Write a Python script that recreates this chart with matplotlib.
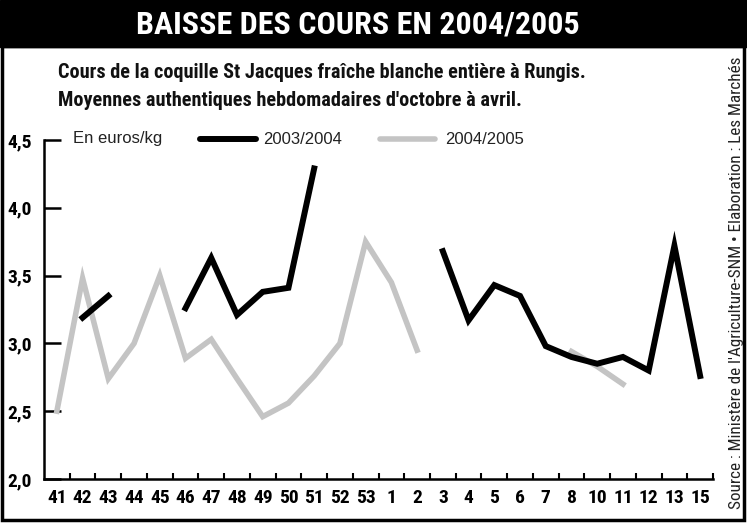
import numpy as np
import matplotlib
matplotlib.use('Agg')
from matplotlib import pyplot as plt
from matplotlib.lines import Line2D
from matplotlib.patches import Rectangle

nan = np.nan

# semaines (9 et 14 absentes dans l'original)
weeks = ['41', '42', '43', '44', '45', '46', '47', '48', '49', '50', '51', '52', '53',
         '1', '2', '3', '4', '5', '6', '7', '8', '10', '11', '12', '13', '15']
# cours en euros/kg
s0304 = [nan, 3.19, 3.35, nan, nan, 3.26, 3.63, 3.21, 3.38, 3.41, 4.29, nan, nan,
         nan, nan, 3.68, 3.17, 3.43, 3.35, 2.98, 2.90, 2.85, 2.90, 2.80, 3.72, 2.76]
s0405 = [2.50, 3.48, 2.74, 3.00, 3.50, 2.89, 3.03, 2.74, 2.46, 2.56, 2.76, 3.00, 3.75,
         3.45, 2.95, nan, nan, nan, nan, nan, 2.94, 2.83, 2.70, nan, nan, nan]
yticks = [2.0, 2.5, 3.0, 3.5, 4.0, 4.5]
ylabels = ['2,0', '2,5', '3,0', '3,5', '4,0', '4,5']

W, H = 747, 524
COND = ['Roboto Condensed', 'DejaVu Sans']
REG = ['Liberation Sans', 'DejaVu Sans']
plt.rcParams['font.family'] = COND

def px(x, y):
    return x / W, 1 - y / H

fig = plt.figure(figsize=(W / 100, H / 100), dpi=100)
fig.patch.set_facecolor('white')

# bandeau titre + cadre
fig.patches.append(Rectangle(px(0, 47), 1, 47 / H, transform=fig.transFigure,
                             color='black', zorder=0))
fig.patches.append(Rectangle(px(2, 520), 742 / W, 474 / H, transform=fig.transFigure,
                             fill=False, edgecolor='black', lw=2.5, zorder=0))
fig.text(*px(358, 25), 'BAISSE DES COURS EN 2004/2005', color='white',
         fontsize=23, fontweight='bold', ha='center', va='center')
fig.text(*px(58, 72), "Cours de la coquille St Jacques fraîche blanche entière à Rungis.",
         fontsize=14.6, fontweight='bold', color='#111111', va='center')
fig.text(*px(58, 101), "Moyennes authentiques hebdomadaires d'octobre à avril.",
         fontsize=14.6, fontweight='bold', color='#111111', va='center')
fig.text(*px(737, 283), "Source : Ministère de l'Agriculture-SNM • Elaboration : Les Marchés",
         rotation=90, fontsize=12.3, ha='center', va='center', color='#222222')

ax = fig.add_axes([44 / W, 45 / H, (713 - 44) / W, (384 - 45) / H])
x = np.arange(len(weeks))
ax.plot(x, s0405, color='#c4c4c4', lw=4.0, solid_joinstyle='miter', zorder=2)
ax.plot(x, s0304, color='black', lw=4.3, solid_joinstyle='miter', zorder=3)

ax.set_xlim(-0.5, len(weeks) - 0.5)
ax.set_ylim(2.0, 4.5)
ax.set_yticks(yticks)
ax.set_yticklabels(ylabels, fontweight='bold', fontsize=14)
ax.set_xticks(x)
ax.set_xticklabels(weeks, fontsize=14, fontweight='bold')
ax.set_xticks(np.arange(len(weeks)) + 0.5, minor=True)
ax.tick_params(axis='x', which='major', length=0, pad=7)
ax.tick_params(axis='x', which='minor', direction='in', length=4, width=1.5)
ax.tick_params(axis='y', direction='in', length=12, width=1.8, pad=9)
for s in ['top', 'right']:
    ax.spines[s].set_visible(False)
for s in ['left', 'bottom']:
    ax.spines[s].set_linewidth(1.8)
ax.patch.set_alpha(0)

# légende
fig.text(*px(73, 139), 'En euros/kg', fontsize=12, family=REG, va='center', color='#222222')
fig.lines.append(Line2D([200 / W, 256 / W], [1 - 139 / H] * 2, transform=fig.transFigure,
                        color='black', lw=4.3, solid_capstyle='round'))
fig.text(*px(263, 139), '2003/2004', fontsize=12, family=REG, va='center', color='#222222')
fig.lines.append(Line2D([380 / W, 435 / W], [1 - 139 / H] * 2, transform=fig.transFigure,
                        color='#c4c4c4', lw=4.0, solid_capstyle='round'))
fig.text(*px(445, 139), '2004/2005', fontsize=12, family=REG, va='center', color='#222222')

fig.savefig('out.png', dpi=100)
